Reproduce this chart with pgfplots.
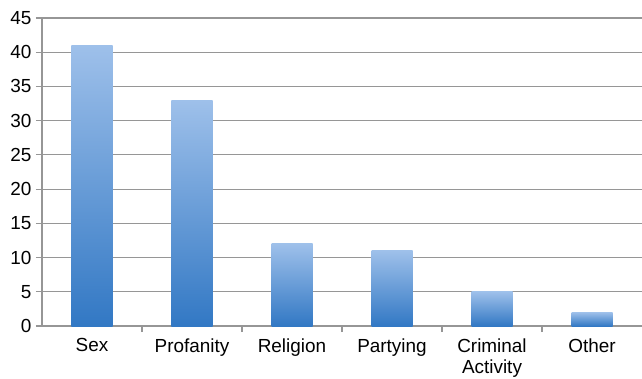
\documentclass[border=0pt]{standalone}
\usepackage{fontspec}
\setmainfont{Liberation Sans}
\usepackage{pgfplots}
\pgfplotsset{compat=1.18}
\definecolor{bartop}{RGB}{158,192,234}
\definecolor{barbot}{RGB}{50,120,196}
\definecolor{gridgray}{RGB}{150,150,150}
% one bar per \addplot so that every bar gets its own full gradient
\pgfplotsset{gradbar/.style={ybar, bar width=41bp, bar shift=0pt, draw=none,
  top color=bartop, bottom color=barbot, forget plot}}
\begin{document}
\begin{tikzpicture}[x=1bp,y=1bp]
\begin{axis}[
  scale only axis,
  width=600bp, height=308bp,
  xmin=-0.5, xmax=5.5,
  ymin=0, ymax=45,
  ytick={0,5,...,45},
  xtick={0,...,5},
  xticklabels={Sex,Profanity,Religion,Partying,{Criminal\\Activity},Other},
  minor xtick={0.5,1.5,...,4.5},
  major x tick style={draw=none},
  minor x tick style={draw=gridgray, line width=1.2bp},
  minor tick length=6bp,
  xtick pos=bottom, ytick pos=left,
  tick align=outside,
  major tick length=6bp,
  y tick style={draw=gridgray, line width=1.2bp},
  ymajorgrids,
  grid style={draw=gridgray, line width=1.2bp},
  axis x line*=bottom, axis y line*=left,
  axis line style={draw=gridgray, line width=1.2bp, -},
  /pgf/number format/assume math mode=true,
  tick label style={font=\fontsize{19}{21}\selectfont, text=black},
  xticklabel style={align=center, anchor=north, yshift=-3bp},
  yticklabel style={xshift=-1bp},
  clip=false,
]
\coordinate (o) at (rel axis cs:0,0);
\addplot[gradbar] coordinates {(0,41)}; % Sex
\addplot[gradbar] coordinates {(1,33)}; % Profanity
\addplot[gradbar] coordinates {(2,12)}; % Religion
\addplot[gradbar] coordinates {(3,11)}; % Partying
\addplot[gradbar] coordinates {(4,5)};  % Criminal Activity
\addplot[gradbar] coordinates {(5,2)};  % Other
\end{axis}
\pgfresetboundingbox
\path[use as bounding box] (o) ++(-42bp,-53bp) rectangle ++(642bp,379bp);
\end{tikzpicture}
\end{document}
